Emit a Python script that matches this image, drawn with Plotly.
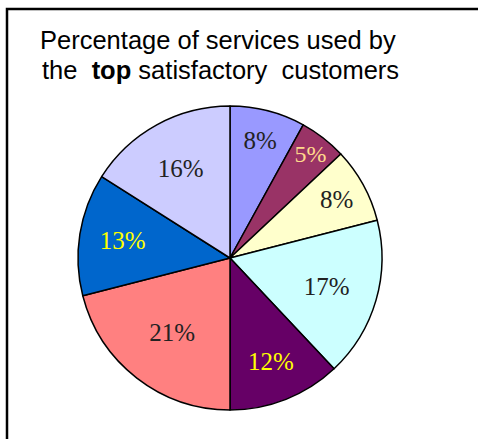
import plotly.graph_objects as go

# Share of services used, clockwise from 12 o'clock
services = ["A", "B", "C", "D", "E", "F", "G", "H"]
shares = [8, 5, 8, 17, 12, 21, 13, 16]
slice_colors = ["#9999FF", "#993366", "#FFFFCC", "#CCFFFF",
                "#660066", "#FF8080", "#0066CC", "#CCCCFF"]
label_colors = ["#222222", "#FFD98C", "#222222", "#222222",
                "#FFFF00", "#222222", "#FFFF00", "#222222"]

W, H = 478, 439
cx, cy, r = 230, 258, 152

fig = go.Figure(go.Pie(
    labels=services,
    values=shares,
    sort=False,
    direction="clockwise",
    rotation=0,
    marker=dict(colors=slice_colors, line=dict(color="black", width=1.5)),
    texttemplate="%{value}%",
    textposition="inside",
    insidetextorientation="horizontal",
    textfont=dict(family="Liberation Serif", size=25, color=label_colors),
    domain=dict(x=[(cx - r) / W, (cx + r) / W],
                y=[(H - cy - r) / H, (H - cy + r) / H]),
    showlegend=False,
    hoverinfo="skip",
))

title_font = dict(family="Liberation Sans", size=25.5, color="black")

fig.update_layout(
    width=W, height=H,
    margin=dict(l=0, r=0, t=0, b=0),
    paper_bgcolor="white",
    plot_bgcolor="white",
    shapes=[dict(type="rect", xref="paper", yref="paper",
                 x0=7 / W, x1=1.05, y0=-0.05, y1=1 - 9 / H,
                 line=dict(color="black", width=2.5), fillcolor="rgba(0,0,0,0)")],
    annotations=[
        dict(text="Percentage of services used by", x=217.5 / W, y=1 - 40.5 / H,
             xref="paper", yref="paper", showarrow=False,
             xanchor="center", yanchor="middle", font=title_font),
        dict(text="the\u00a0 <b>top</b> satisfactory\u00a0 customers", x=220 / W, y=1 - 70 / H,
             xref="paper", yref="paper", showarrow=False,
             xanchor="center", yanchor="middle", font=title_font),
    ],
)

fig.write_html("out.html")
